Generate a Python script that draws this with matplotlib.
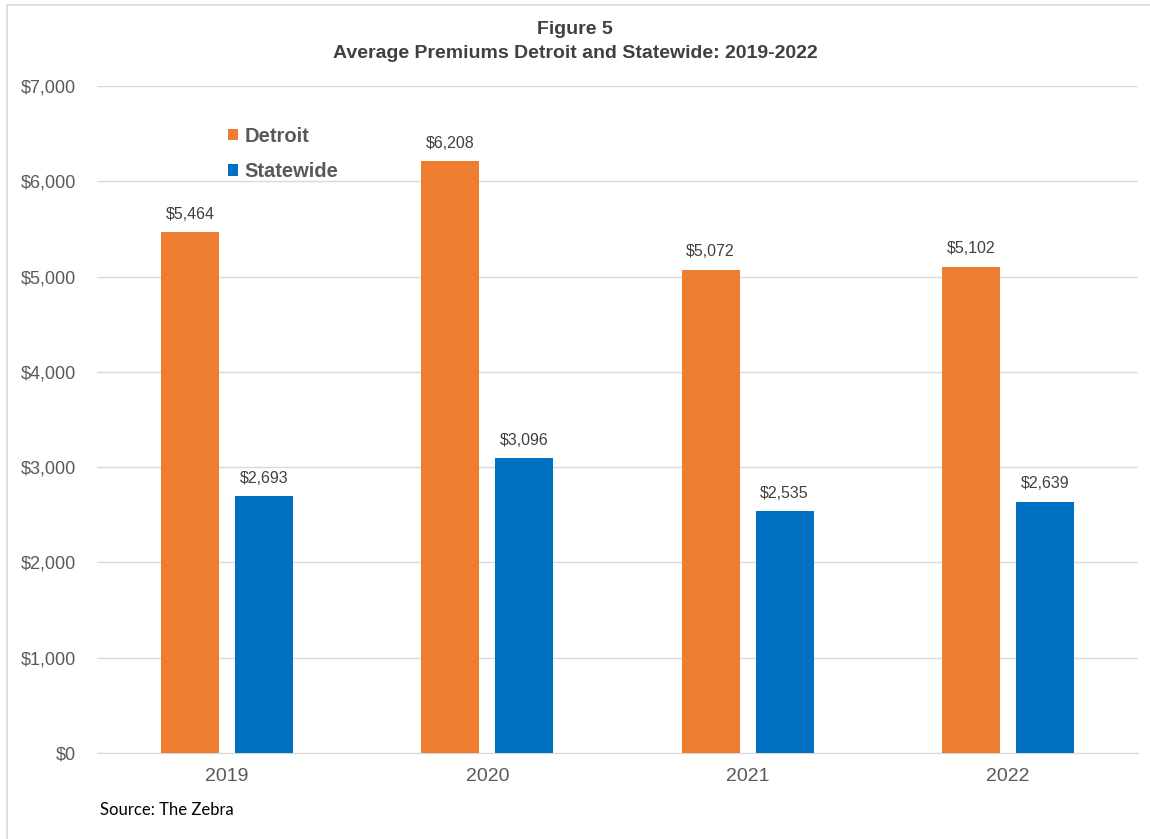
import matplotlib
matplotlib.use("Agg")
import matplotlib.pyplot as plt
from matplotlib.patches import Rectangle
import numpy as np

years = ["2019", "2020", "2021", "2022"]
detroit = [5464, 6208, 5072, 5102]
statewide = [2693, 3096, 2535, 2639]
series_names = ["Detroit", "Statewide"]
yticks = [0, 1000, 2000, 3000, 4000, 5000, 6000, 7000]

plt.rcParams['font.family'] = ['Liberation Sans', 'DejaVu Sans']

fig = plt.figure(figsize=(11.5, 8.39), dpi=100)
ax = fig.add_axes([97/1150, 86/839, (1138-97)/1150, (753-86)/839])

x = np.arange(len(years))
w = 0.223
off = (w + 0.0615) / 2
c_det = "#ED7D31"
c_sw = "#0070C0"
b1 = ax.bar(x - off, detroit, w, color=c_det, label=series_names[0], zorder=3)
b2 = ax.bar(x + off, statewide, w, color=c_sw, label=series_names[1], zorder=3)

for bars, vals in ((b1, detroit), (b2, statewide)):
    for r, v in zip(bars, vals):
        ax.text(r.get_x() + r.get_width()/2, v + 110, f"${v:,}", ha="center", va="bottom",
                fontsize=11.5, color="#404040")

ax.set_xlim(-0.5, 3.5)
ax.set_ylim(0, 7000)
ax.set_yticks(yticks)
ax.set_yticklabels([f"${t:,}" for t in yticks], fontsize=13, color="#595959")
ax.set_xticks(x)
ax.set_xticklabels(years, fontsize=14, color="#595959")
ax.tick_params(length=0, pad=11)
ax.tick_params(axis='y', pad=15)
ax.grid(axis='y', color="#d9d9d9", linewidth=1, zorder=0)
for s in ("top", "right", "left"):
    ax.spines[s].set_visible(False)
ax.spines["bottom"].set_color("#d9d9d9")

leg = ax.legend(loc="upper left", bbox_to_anchor=(0.108, 0.966), frameon=False,
                handlelength=0.5, handleheight=0.5, handletextpad=0.35, labelspacing=0.8,
                prop={'weight': 'bold', 'size': 14.5})
for t in leg.get_texts():
    t.set_color("#595959")

fig.text(0.5, 1 - 30/839, "Figure 5", ha="center", va="center", fontsize=14,
         fontweight="bold", color="#404040")
fig.text(0.5, 1 - 53/839, "Average Premiums Detroit and Statewide: 2019-2022", ha="center",
         va="center", fontsize=14, fontweight="bold", color="#404040")
fig.text(100/1150, 1 - 810/839, "Source: The Zebra", ha="left", va="center", fontsize=12,
         color="#000000", family=["Lato", "DejaVu Sans"])

fig.patches.append(Rectangle((7/1150, -0.1), 1.2, 1 - 5/839 + 0.1, transform=fig.transFigure,
                             fill=False, edgecolor="#d9d9d9", linewidth=1.2))

fig.savefig("out.png", dpi=100, facecolor="white")
